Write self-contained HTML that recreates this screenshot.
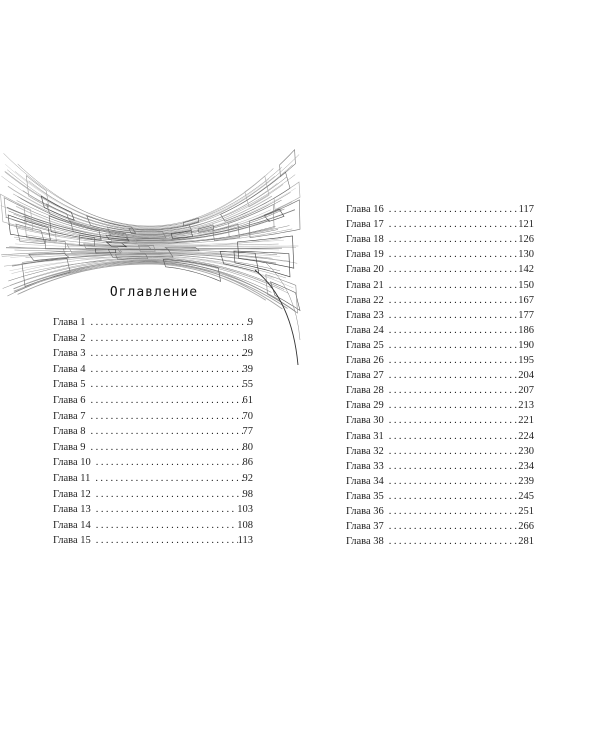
<!DOCTYPE html>
<html><head><meta charset="utf-8"><style>
html,body{margin:0;padding:0;background:#fff;}
body{width:600px;height:750px;position:relative;overflow:hidden;font-family:"Liberation Serif",serif;}
.row{position:absolute;font-size:10.5px;color:#222;display:flex;line-height:12px;}
.row .l{white-space:nowrap;}
.row .d{flex:1;overflow:hidden;white-space:nowrap;letter-spacing:2.4px;padding:0 6px 0 5px;}
.row .n{white-space:nowrap;}
#title{position:absolute;left:104px;top:285px;width:100px;text-align:center;font-family:"DejaVu Sans Mono","Liberation Mono",monospace;font-size:13px;letter-spacing:1px;color:#111;}
svg{position:absolute;left:0;top:0;}
</style></head><body>
<svg id="g" width="600" height="750"></svg>
<div id="title">Оглавление</div>
<div id="rows"></div>
<script>
var pages=[9,18,29,39,55,61,70,77,80,86,92,98,103,108,113,117,121,126,130,142,150,167,177,186,190,195,204,207,213,221,224,230,234,239,245,251,266,281];
var h='';
for(var i=0;i<38;i++){
  var x,y,w;
  if(i<15){x=53;w=200;y=317+i*15.6;}else{x=346;w=188;y=204+(i-15)*15.1;}
  h+='<div class="row" style="left:'+x+'px;top:'+y+'px;width:'+w+'px"><span class="l">Глава '+(i+1)+'</span><span class="d">'+'.'.repeat(60)+'</span><span class="n">'+pages[i]+'</span></div>';
}
document.getElementById('rows').innerHTML=h;
var s='';
var seed=7;function rnd(a,b){seed=(seed*9301+49297)%233280;return a+seed/233280*(b-a);}
function Y(x,t,jl,jr){var u=(x-150)/150;var ym=226+t*38;var e=u<0?(150+t*155+jl):(140+t*185+jr);return ym+(e-ym)*u*u;}
for(var k=0;k<55;k++){
  var t=k/54;
  var jl=rnd(-8,8),jr=rnd(-8,8);
  var x0=rnd(0,30),x1=rnd(270,300);
  var c=Math.floor(rnd(110,210));
  var sw=rnd(0,1)<0.15?0.9:0.5;
  var pts=[];
  for(var x=x0;x<=x1;x+=6){pts.push(x.toFixed(1)+','+Y(x,t,jl,jr).toFixed(1));}
  s+='<polyline points="'+pts.join(' ')+'" fill="none" stroke="rgb('+c+','+c+','+c+')" stroke-width="'+sw+'"/>';
}
// rectangles-ish blocks
for(var k=0;k<45;k++){
  var xa=rnd(0,280),xb=xa+rnd(15,70);if(xb>300)xb=300;
  var ta=rnd(0,0.9),tb=ta+rnd(0.05,0.2);
  var c=Math.floor(rnd(60,170));
  var p=[];
  for(var x=xa;x<=xb;x+=5)p.push(x.toFixed(1)+','+Y(x,ta,0,0).toFixed(1));
  for(var x=xb;x>=xa;x-=5)p.push(x.toFixed(1)+','+Y(x,tb,0,0).toFixed(1));
  s+='<polygon points="'+p.join(' ')+'" fill="none" stroke="rgb('+c+','+c+','+c+')" stroke-width="0.6"/>';
}
s+='<path d="M255,270 Q292,300 298,365" fill="none" stroke="#333" stroke-width="0.9"/>';
s+='<path d="M265,262 Q296,290 300,340" fill="none" stroke="#888" stroke-width="0.5"/>';
document.getElementById('g').innerHTML=s;
</script>
</body></html>
